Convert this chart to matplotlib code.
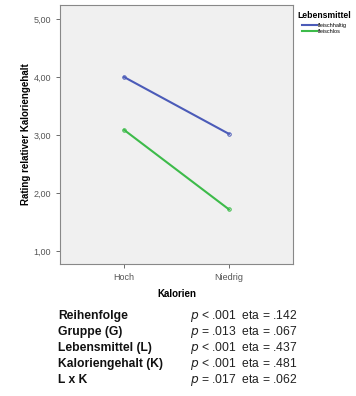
import matplotlib
matplotlib.use("Agg")
import matplotlib.pyplot as plt
from matplotlib.lines import Line2D

plt.rcParams['font.family'] = ['Liberation Sans', 'DejaVu Sans']

kalorien = ['Hoch', 'Niedrig']
fleischhaltig = [4.00, 3.02]
fleischlos = [3.09, 1.72]
yticks = [1, 2, 3, 4, 5]
effekte = ['Reihenfolge', 'Gruppe (G)', 'Lebensmittel (L)', 'Kaloriengehalt (K)', 'L x K']
p_werte = ['< .001', '= .013', '< .001', '< .001', '= .017']
eta_werte = ['.142', '.067', '.437', '.481', '.062']

blau = '#4b5bb8'
gruen = '#3dbb4a'

fig = plt.figure(figsize=(3.56, 3.96), dpi=100)
ax = fig.add_axes([60 / 356, 1 - 264 / 396, 233 / 356, 259 / 396])
ax.set_facecolor('#f0f0f0')

x = range(len(kalorien))
ax.plot(x, fleischhaltig, color=blau, lw=1.5, marker='o', ms=2.5,
        mfc='none', mew=0.7)
ax.plot(x, fleischlos, color=gruen, lw=1.5, marker='o', ms=2.5,
        mfc='none', mew=0.7)

ax.set_xlim(-0.61, 1.61)
ax.set_ylim(0.78, 5.24)
ax.set_xticks(list(x))
ax.set_xticklabels(kalorien)
ax.set_yticks(yticks)
ax.set_yticklabels(['%d,00' % v for v in yticks])
ax.tick_params(labelsize=6.5, colors='#555555', length=3, width=0.6)
for s in ax.spines.values():
    s.set_color('#888888')
    s.set_linewidth(0.8)

ax.set_xlabel('Kalorien', fontsize=7, fontweight='bold', labelpad=5)
ax.set_ylabel('Rating relativer Kaloriengehalt', fontsize=7, fontweight='bold', labelpad=2)

# legend: title as separate text, entries slightly indented
fig.text(297 / 356, 1 - 15 / 396, 'Lebensmittel', fontsize=6.2, fontweight='bold',
         va='center', ha='left')
handles = [Line2D([], [], color=blau, lw=1.5), Line2D([], [], color=gruen, lw=1.5)]
leg = fig.legend(handles, ['fleischhaltig', 'fleischlos'], loc='upper left',
                 bbox_to_anchor=(301 / 356, 1 - 22 / 396), frameon=False,
                 fontsize=4, handlelength=2.6, handletextpad=0.3,
                 labelspacing=0.2, borderaxespad=0, borderpad=0.2)

for i, (e, p, eta) in enumerate(zip(effekte, p_werte, eta_werte)):
    y = 1 - (316 + 16 * i) / 396
    fig.text(58 / 356, y, e, fontsize=8.7, fontweight='bold', va='center', color='#111111')
    fig.text(190 / 356, y, r'$p$' + ' ' + p + '  eta = ' + eta, fontsize=8.7,
             va='center', color='#222222')

fig.savefig('out.png', dpi=100)
